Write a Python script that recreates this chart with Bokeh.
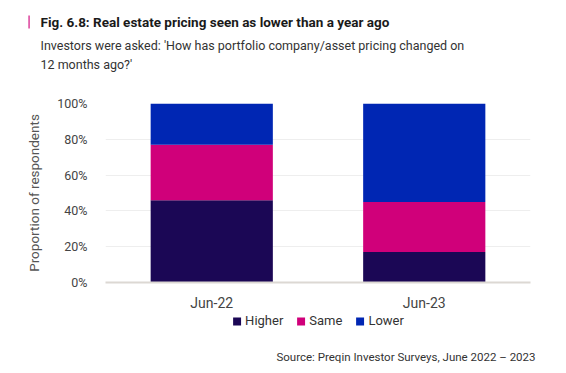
from bokeh.plotting import figure
from bokeh.layouts import column
from bokeh.models import (Range1d, FixedTicker, PrintfTickFormatter, Legend,
                          LegendItem, Title)
from bokeh.embed import file_html
from bokeh.resources import INLINE

categories = ["Jun-22", "Jun-23"]
series = ["Higher", "Same", "Lower"]
higher = [46, 17]
same = [31, 28]
lower = [23, 55]
colors = ["#1B0755", "#D0007A", "#0026B3"]
y_ticks = [0, 20, 40, 60, 80, 100]

FONT = "Roboto"
data = {"cat": categories, "Higher": higher, "Same": same, "Lower": lower}

p = figure(x_range=categories, y_range=Range1d(0, 100), title=None,
           width=550, height=312, frame_width=425, frame_height=179,
           output_backend="svg", toolbar_location=None,
           min_border_left=105, min_border_right=20, min_border_top=103, min_border_bottom=30)
p.outline_line_color = None
p.background_fill_color = "white"

p.vbar_stack(series, x="cat", width=0.575, color=colors, source=data, line_color=None)

# titles, stacked from the frame outward
spacer = Title(text=" ", text_font=FONT, text_font_size="10px", standoff=19,
               align="left", offset=-65)
p.add_layout(spacer, "above")
sub2 = Title(text="12 months ago?'", text_font=FONT, text_font_style="normal",
             text_font_size="12.5px", text_color="#333333", align="left", offset=-65, standoff=0)
p.add_layout(sub2, "above")
sub1 = Title(text="Investors were asked: 'How has portfolio company/asset pricing changed on",
             text_font=FONT, text_font_style="normal", text_font_size="12.5px",
             text_color="#333333", align="left", offset=-65, standoff=4)
p.add_layout(sub1, "above")
main = Title(text="Fig. 6.8: Real estate pricing seen as lower than a year ago",
             text_font=FONT, text_font_style="bold", text_font_size="13.5px",
             text_color="#1a1a1a", align="left", offset=-65, standoff=8)
p.add_layout(main, "above")
bar = Title(text="\u200a", text_font=FONT, text_font_size="11px",
            background_fill_color="#D0007A", align="left", offset=-77, standoff=-42)
p.add_layout(bar, "above")

p.xgrid.grid_line_color = None
p.ygrid.grid_line_color = "#EEEEEE"
p.ygrid.ticker = FixedTicker(ticks=y_ticks)

p.yaxis.ticker = FixedTicker(ticks=y_ticks)
p.yaxis.formatter = PrintfTickFormatter(format="%d%%")
p.yaxis.axis_line_color = None
p.yaxis.major_tick_line_color = None
p.yaxis.minor_tick_line_color = None
p.yaxis.major_label_standoff = 12
p.yaxis.major_label_text_font = FONT
p.yaxis.major_label_text_font_size = "12.5px"
p.yaxis.major_label_text_color = "#444444"
p.yaxis.axis_label = "Proportion of respondents"
p.yaxis.axis_label_text_font = FONT
p.yaxis.axis_label_text_font_style = "normal"
p.yaxis.axis_label_text_font_size = "13.5px"
p.yaxis.axis_label_text_color = "#555555"
p.yaxis.axis_label_standoff = 12

p.xaxis.axis_line_color = "#DCD8D3"
p.xaxis.axis_line_width = 2
p.xaxis.major_tick_line_color = None
p.xaxis.minor_tick_line_color = None
p.xaxis.major_label_standoff = 6
p.xaxis.major_label_text_font = FONT
p.xaxis.major_label_text_font_size = "14px"
p.xaxis.major_label_text_color = "#444444"

# footer: legend and source
f = figure(x_range=categories, y_range=Range1d(0, 100), title=None,
           width=550, height=58, frame_width=425, frame_height=26,
           output_backend="svg", toolbar_location=None,
           x_axis_location=None, y_axis_location=None,
           min_border_left=105, min_border_right=20, min_border_top=0, min_border_bottom=32)
f.outline_line_color = None
f.xgrid.grid_line_color = None
f.ygrid.grid_line_color = None
key = f.vbar_stack(series, x="cat", width=0.575, color=colors, source=data,
                   line_color=None, visible=False)

legend = Legend(items=[LegendItem(label=s, renderers=[r]) for s, r in zip(series, key)],
                orientation="horizontal", location="top_center",
                label_text_font=FONT, label_text_font_size="13px", label_text_color="#333333",
                glyph_width=10, glyph_height=10, label_standoff=4, spacing=12,
                padding=0, margin=0, border_line_color=None, background_fill_alpha=0,
                inactive_fill_alpha=0)
f.add_layout(legend, "center")

src = Title(text="Source: Preqin Investor Surveys, June 2022 \u2013 2023",
            text_font=FONT, text_font_style="normal", text_font_size="11.5px",
            text_color="#333333", align="right", offset=-5, standoff=17)
f.add_layout(src, "below")

layout = column(p, f, spacing=0)
open("out.html", "w").write(file_html(layout, INLINE))
